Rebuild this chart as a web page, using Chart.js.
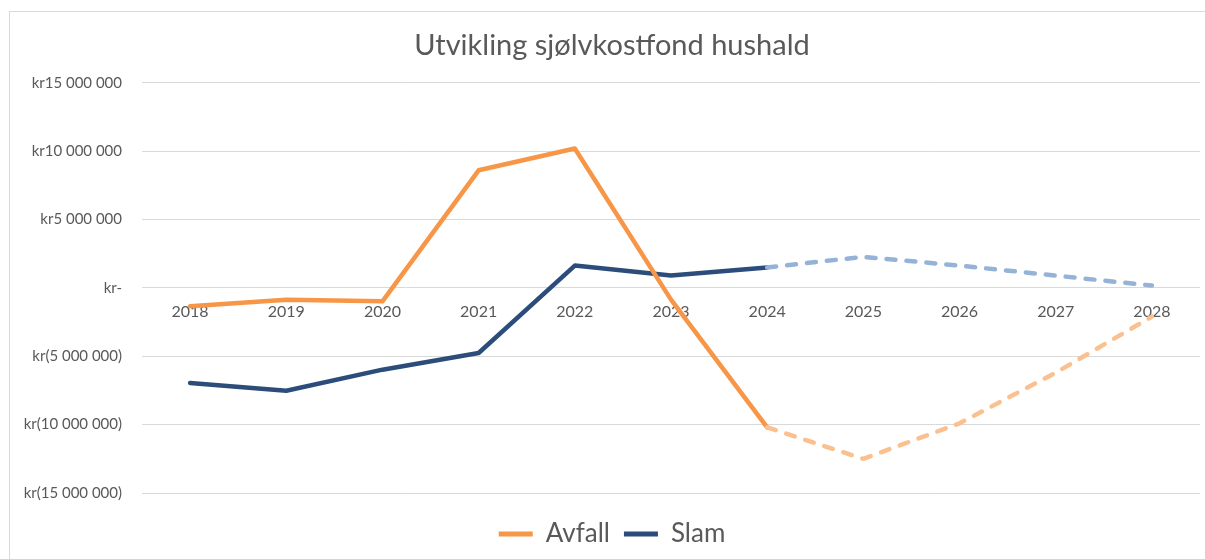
<!DOCTYPE html>
<html>
<head>
<meta charset="utf-8">
<script src="https://cdn.jsdelivr.net/npm/chart.js@4/dist/chart.umd.min.js"></script>
<style>
    html, body { margin: 0; padding: 0; background: #fff; }
    #wrap { position: relative; width: 1205px; height: 559px; overflow: hidden; }
    #frame { position: absolute; left: 9px; top: 11px; right: -2px; bottom: -2px; border-left: 1px solid #d9d9d9; border-top: 1px solid #d9d9d9; pointer-events: none; }
    canvas { position: absolute; left: 0; top: 0; }
</style>
</head>
<body>
<div id="wrap">
    <canvas id="chart" width="1205" height="559"></canvas>
    <div id="frame"></div>
</div>
<script>
    "use strict";

    const years = ["2018", "2019", "2020", "2021", "2022", "2023", "2024", "2025", "2026", "2027", "2028"];
    const avfall = [-1350000, -860000, -980000, 8600000, 10200000, -860000, -10200000, -12500000, -9900000, -6200000, -2100000];
    const slam = [-6950000, -7520000, -5980000, -4760000, 1630000, 900000, 1500000, 2270000, 1630000, 900000, 170000];
    const yTicks = [-15000000, -10000000, -5000000, 0, 5000000, 10000000, 15000000];
    const forecastFrom = 6; // index of 2024, dashed after this point

    const TEXT = "#595959";
    const FONT = "Lato, 'Open Sans', sans-serif";

    function kr(value) {
        if (value === 0) return "kr-";
        const digits = Math.abs(value).toString().replace(/\B(?=(\d{3})+(?!\d))/g, " ");
        return value < 0 ? "kr(" + digits + ")" : "kr" + digits;
    }

    function lineSet(label, data, solid, light) {
        return {
            label,
            data,
            borderColor: solid,
            backgroundColor: solid,
            borderWidth: 4.5,
            borderCapStyle: "round",
            borderJoinStyle: "round",
            pointRadius: 0,
            pointHoverRadius: 0,
            tension: 0,
            segment: {
                borderColor: ctx => ctx.p0DataIndex >= forecastFrom ? light : solid,
                borderDash: ctx => ctx.p0DataIndex >= forecastFrom ? [9, 11] : []
            }
        };
    }

    new Chart(document.getElementById("chart").getContext("2d"), {
        type: "line",
        data: {
            labels: years,
            datasets: [
                lineSet("Avfall", avfall, "#F79646", "#FAC090"),
                lineSet("Slam", slam, "#2C4D7A", "#95B3D7")
            ]
        },
        options: {
            responsive: false,
            animation: false,
            layout: { padding: { left: 24, right: 5, top: 0, bottom: 2 } },
            plugins: {
                title: {
                    display: true,
                    text: "Utvikling sjølvkostfond hushald",
                    color: TEXT,
                    font: { family: FONT, size: 29, weight: "normal" },
                    padding: { top: 28, bottom: 20 }
                },
                legend: {
                    position: "bottom",
                    // blank legend title only pushes the items down a little
                    title: { display: true, text: " ", font: { size: 10 }, padding: 1 },
                    labels: {
                        color: TEXT,
                        font: { family: FONT, size: 26 },
                        boxWidth: 34,
                        boxHeight: 5,
                        padding: 14,
                        useBorderRadius: true,
                        borderRadius: 2.5,
                        generateLabels: chart => chart.data.datasets.map((ds, i) => ({
                            text: ds.label,
                            fillStyle: ds.borderColor,
                            strokeStyle: ds.borderColor,
                            lineWidth: 0,
                            fontColor: TEXT,
                            datasetIndex: i
                        }))
                    }
                },
                tooltip: { enabled: false }
            },
            scales: {
                x: {
                    position: { y: 0 },
                    offset: true,
                    grid: { display: false },
                    border: { display: false },
                    ticks: { color: TEXT, font: { family: FONT, size: 16 }, padding: 6, maxRotation: 0 }
                },
                y: {
                    min: -15000000,
                    max: 15000000,
                    afterBuildTicks: scale => { scale.ticks = yTicks.map(v => ({ value: v })); },
                    afterFit: scale => { scale.width = 118; },
                    grid: { color: "#d9d9d9", lineWidth: 1, drawTicks: false },
                    border: { display: false },
                    ticks: { color: TEXT, font: { family: FONT, size: 15 }, padding: 20, callback: v => kr(v) }
                }
            }
        }
    });
</script>
</body>
</html>
